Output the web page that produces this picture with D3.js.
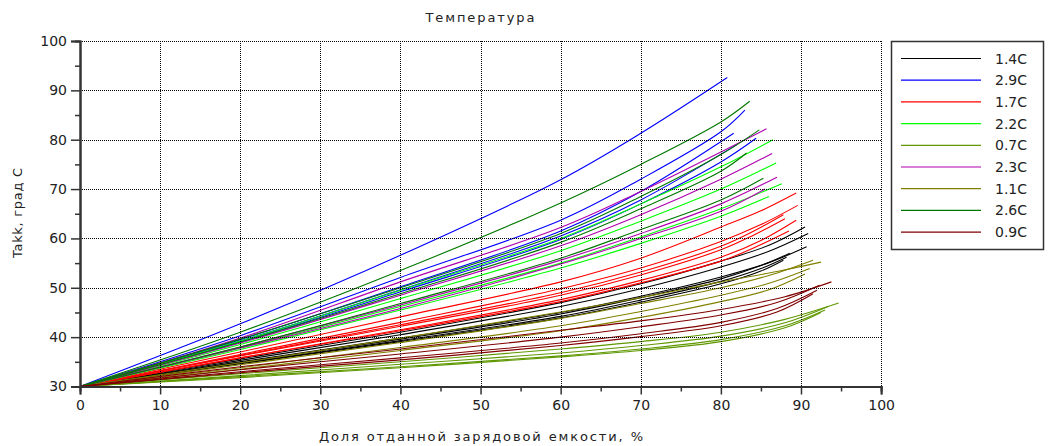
<!DOCTYPE html>
<html>
<head>
<meta charset="utf-8">
<script src="https://cdn.jsdelivr.net/npm/d3@7"></script>
<style>
  html, body { margin: 0; padding: 0; background: #fff; }
  svg { display: block; font-family: "DejaVu Sans", sans-serif; }
</style>
</head>
<body>
<svg id="chart" width="1055" height="446"></svg>
<script>
// Temperature rise of the battery vs. delivered share of capacity, per discharge rate.
const seriesLabels = ["1.4C", "2.9C", "1.7C", "2.2C", "0.7C", "2.3C", "1.1C", "2.6C", "0.9C"];
const seriesColors = ["#000000", "#0000ff", "#ff0000", "#00ff00", "#5f9800", "#b000b0", "#808000", "#007800", "#800000"];

const xTicks = [0, 10, 20, 30, 40, 50, 60, 70, 80, 90, 100];
const yTicks = [30, 40, 50, 60, 70, 80, 90, 100];

// each run: [share of capacity %, temperature °C]
const runs14 = [
  [[0,30],[20,35.6],[40,41.0],[60,47.0],[70,50.8],[80,55.4],[86,58.6],[90.5,62.3]],
  [[0,30],[20,35.3],[40,40.5],[60,46.2],[70,49.8],[80,54.2],[86,57.4],[90.9,61.0]],
  [[0,30],[20,35.0],[40,39.8],[60,45.0],[70,48.3],[80,52.2],[86,55.1],[90.7,58.3]],
  [[0,30],[20,34.9],[40,39.6],[60,44.7],[70,48.0],[80,51.8],[85,54.5],[88.6,57.0]],
  [[0,30],[20,34.7],[40,39.3],[60,44.2],[70,47.5],[80,51.3],[85,53.9],[88.2,56.2]],
  [[0,30],[20,34.6],[40,39.1],[60,43.9],[70,47.1],[80,50.8],[85,53.4],[87.8,55.6]]
];
const runs29 = [
  [[0,30],[20,42.7],[40,56.6],[60,71.9],[70,81.3],[80.8,92.6]],
  [[0,30],[20,40.3],[40,52.1],[60,63.7],[70,72.0],[80,81.6],[83.0,86.0]],
  [[0,30],[20,39.5],[40,50.2],[60,61.5],[70,69.5],[81.6,81.3]],
  [[0,30],[20,39.2],[40,49.6],[60,60.5],[70,67.8],[82.0,79.0]],
  [[0,30],[20,39.0],[40,49.2],[60,59.8],[70,67.0],[80,75.5],[84.4,80.3]]
];
const runs17 = [
  [[0,30],[20,37.0],[40,44.1],[60,51.2],[70,56.0],[80,62.3],[85,65.6],[89.4,69.2]],
  [[0,30],[20,36.5],[40,43.0],[60,49.8],[70,54.0],[80,59.4],[85,62.8],[89.6,66.7]],
  [[0,30],[20,36.3],[40,42.5],[60,49.0],[70,53.2],[80,58.4],[84,61.4],[87.8,64.8]],
  [[0,30],[20,36.2],[40,42.2],[60,48.5],[70,52.6],[80,57.7],[84,60.6],[88.0,64.0]],
  [[0,30],[20,35.8],[40,41.5],[60,47.6],[70,51.5],[80,56.2],[85,59.6],[89.4,63.7]],
  [[0,30],[20,35.8],[40,41.3],[60,47.2],[70,51.0],[80,55.4],[84,58.0],[88.5,61.5]]
];
const runs22 = [
  [[0,30],[20,39.2],[40,49.5],[60,60.0],[70,67.0],[80,74.5],[86.5,80.0]],
  [[0,30],[20,38.5],[40,47.8],[60,57.5],[70,63.5],[80,70.0],[86.9,75.3]],
  [[0,30],[20,37.8],[40,46.2],[60,55.0],[70,60.3],[80,66.0],[87.6,71.1]],
  [[0,30],[20,37.5],[40,45.5],[60,54.0],[70,59.0],[80,64.5],[86.0,68.5]]
];
const runs07 = [
  [[0,30],[20,32.6],[40,35.0],[60,37.6],[70,39.1],[80,41.0],[88,43.6],[94.7,46.9]],
  [[0,30],[20,32.2],[40,34.5],[60,36.8],[70,38.3],[80,40.2],[88,42.9],[93.4,46.2]],
  [[0,30],[20,32.0],[40,34.0],[60,36.2],[70,37.6],[80,39.5],[88,42.3],[93.0,45.5]],
  [[0,30],[20,31.8],[40,33.8],[60,36.0],[70,37.3],[80,39.1],[88,41.9],[92.5,45.0]]
];
const runs23 = [
  [[0,30],[20,39.8],[40,51.2],[60,62.2],[70,69.5],[80,77.5],[85.7,82.2]],
  [[0,30],[20,38.8],[40,48.5],[60,58.5],[70,64.8],[80,72.0],[86.4,77.2]],
  [[0,30],[20,38.0],[40,46.5],[60,55.6],[70,61.0],[80,67.0],[87.0,72.4]],
  [[0,30],[20,37.8],[40,45.8],[60,54.8],[70,60.0],[80,65.5],[85.5,70.0]]
];
const runs11 = [
  [[0,30],[20,34.8],[40,39.8],[60,45.1],[70,48.0],[80,51.2],[87,53.3],[92.5,55.2]],
  [[0,30],[20,34.4],[40,38.9],[60,43.8],[70,46.8],[80,50.0],[86,52.5],[91.5,55.6]],
  [[0,30],[20,33.8],[40,37.9],[60,42.3],[70,45.2],[80,48.5],[86,50.9],[91.1,53.9]],
  [[0,30],[20,33.5],[40,37.3],[60,41.3],[70,44.0],[80,47.2],[86,49.6],[90.5,52.8]]
];
const runs26 = [
  [[0,30],[20,41.0],[40,53.5],[60,67.2],[70,75.0],[80,83.6],[83.6,87.8]],
  [[0,30],[20,39.6],[40,50.0],[60,61.0],[70,68.5],[80,77.0],[84.8,82.0]],
  [[0,30],[20,39.0],[40,48.8],[60,59.2],[70,66.0],[80,73.6],[83.2,77.3]],
  [[0,30],[20,38.0],[40,46.8],[60,56.0],[70,61.8],[80,67.8],[85.3,72.2]]
];
const runs09 = [
  [[0,30],[20,34.0],[40,37.6],[60,41.4],[70,43.3],[80,45.6],[88,48.2],[93.8,51.2]],
  [[0,30],[20,33.4],[40,36.6],[60,40.0],[70,42.1],[80,44.5],[87,47.0],[92.3,50.5]],
  [[0,30],[20,33.0],[40,35.8],[60,38.8],[70,40.7],[80,43.0],[87,45.8],[92.0,49.5]],
  [[0,30],[20,32.8],[40,35.4],[60,38.3],[70,40.1],[80,42.3],[87,45.1],[91.5,48.8]]
];
const seriesRuns = [runs14, runs29, runs17, runs22, runs07, runs23, runs11, runs26, runs09];

const svg = d3.select("#chart");
const margin = { left: 80, right: 174, top: 41, bottom: 59.5 };
const W = 1055, H = 446;

const x = d3.scaleLinear().domain([0, 100]).range([margin.left, W - margin.right + 0.1]);
const y = d3.scaleLinear().domain([30, 100]).range([H - margin.bottom, margin.top]);

// curves
const line = d3.line().x(d => x(d[0])).y(d => y(d[1])).curve(d3.curveCatmullRom.alpha(0.5));
const plot = svg.append("g");
seriesRuns.forEach((runs, i) => {
  plot.append("g")
    .attr("fill", "none")
    .attr("stroke", seriesColors[i])
    .attr("stroke-width", 1.1)
    .selectAll("path")
    .data(runs)
    .join("path")
    .attr("d", line);
});

// dotted grid
const grid = svg.append("g").attr("stroke", "#000").attr("stroke-width", 1).attr("stroke-dasharray", "1,1");
grid.selectAll("line.v").data(xTicks.slice(1)).join("line")
  .attr("x1", d => Math.round(x(d)) + 0.5).attr("x2", d => Math.round(x(d)) + 0.5)
  .attr("y1", y(100)).attr("y2", y(30));
grid.selectAll("line.h").data(yTicks.slice(1)).join("line")
  .attr("y1", d => Math.round(y(d)) + 0.5).attr("y2", d => Math.round(y(d)) + 0.5)
  .attr("x1", x(0)).attr("x2", x(100));

// axes
const axisColor = "#333";
const xAxis = d3.axisBottom(x).tickValues(xTicks).tickSize(8).tickPadding(6).tickFormat(d3.format("d"));
const yAxis = d3.axisLeft(y).tickValues(yTicks).tickSize(9).tickPadding(4).tickFormat(d3.format("d"));
const xMinor = d3.axisBottom(x).tickValues(d3.range(5, 100, 10)).tickSize(5).tickFormat("");
const yMinor = d3.axisLeft(y).tickValues(d3.range(35, 100, 10)).tickSize(5).tickFormat("");

function styleAxis(g) {
  g.select(".domain").attr("stroke", axisColor).attr("stroke-width", 2);
  g.selectAll(".tick line").attr("stroke", axisColor).attr("stroke-width", 1.5);
  g.selectAll(".tick text").attr("fill", "#222").style("font-size", "14px").style("font-family", "DejaVu Sans");
}
svg.append("g").attr("transform", `translate(0,${y(30)})`).call(xMinor).call(styleAxis);
svg.append("g").attr("transform", `translate(${x(0)},0)`).call(yMinor).call(styleAxis);
svg.append("g").attr("transform", `translate(0,${y(30)})`).call(xAxis).call(styleAxis);
svg.append("g").attr("transform", `translate(${x(0)},0)`).call(yAxis).call(styleAxis);

// titles
svg.append("text").attr("x", 480).attr("y", 22).attr("text-anchor", "middle")
  .attr("textLength", 109).attr("lengthAdjust", "spacing")
  .style("font-size", "13px").attr("fill", "#222").text("Температура");
svg.append("text").attr("x", 481).attr("y", 441).attr("text-anchor", "middle")
  .attr("textLength", 324).attr("lengthAdjust", "spacing")
  .style("font-size", "13px").attr("fill", "#222").text("Доля отданной зарядовой емкости, %");
svg.append("text").attr("transform", "translate(22,213) rotate(-90)").attr("text-anchor", "middle")
  .attr("textLength", 90).attr("lengthAdjust", "spacing")
  .style("font-size", "13px").attr("fill", "#222").text("Takk, град C");

// legend
const legend = svg.append("g");
legend.append("rect").attr("x", 891.5).attr("y", 41.5).attr("width", 152).attr("height", 208)
  .attr("fill", "#fff").attr("stroke", "#333").attr("stroke-width", 1.5);
const rows = legend.selectAll("g.row").data(seriesLabels).join("g")
  .attr("transform", (d, i) => `translate(0,${58.5 + i * 21.7})`);
rows.append("line").attr("x1", 901).attr("x2", 981).attr("y1", 0).attr("y2", 0)
  .attr("stroke", (d, i) => seriesColors[i]).attr("stroke-width", 1.2);
rows.append("text").attr("x", 995).attr("y", 5).style("font-size", "14px").attr("fill", "#222").text(d => d);
</script>
</body>
</html>
